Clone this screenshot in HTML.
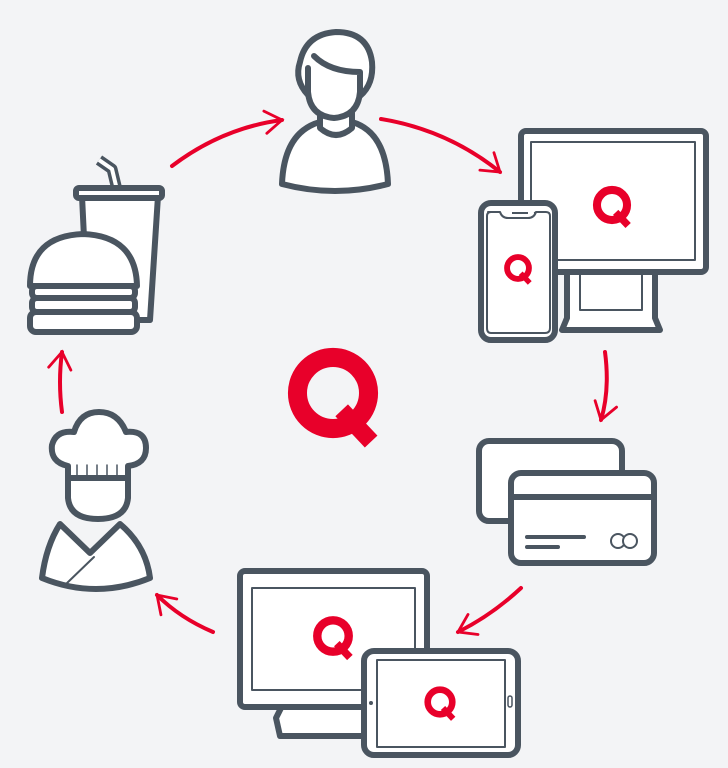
<!DOCTYPE html>
<html><head><style>html,body{margin:0;padding:0;background:#f3f4f6}svg{display:block}</style></head><body>
<svg width="728" height="768" viewBox="0 0 728 768" xmlns="http://www.w3.org/2000/svg">
<defs>
<symbol id="q" viewBox="-60 -60 120 120" overflow="visible">
<circle cx="0" cy="0" r="41" fill="none" stroke="#e8002a" stroke-width="22"/>
<line x1="10" y1="20" x2="44" y2="56" stroke="#e8002a" stroke-width="20"/>
</symbol>
<marker id="ah" viewBox="0 0 10 10" refX="7" refY="5" markerWidth="7" markerHeight="7" orient="auto" markerUnits="strokeWidth">
<path d="M1,1 L7,5 L1,9" fill="none" stroke="#e8002a" stroke-width="1" stroke-linecap="round"/>
</marker>
</defs>
<rect width="728" height="768" fill="#f3f4f6"/>
<!-- straw -->
<path d="M99,160 L112,169 L118,194" fill="none" stroke="#4a5560" stroke-width="11" stroke-linejoin="round"/>
<path d="M99,160 L112,169 L118,194" fill="none" stroke="#fff" stroke-width="4" stroke-linejoin="round"/>
<g fill="#fff" stroke="#4a5560" stroke-width="6" stroke-linejoin="round" stroke-linecap="round">
<!-- person -->
<path d="M282,184 Q284,132 320,122 L352,122 Q386,132 388,184 Q335,198 282,184 Z"/>
<path d="M320,110 L320,128 Q336,142 352,128 L352,110 Z"/>
<path d="M308,95 Q294,80 300,62 Q306,34 336,32 Q368,32 372,62 Q374,84 360,96 Z"/>
<path d="M308,68 L308,92 Q310,116 334,118 Q358,116 360,92 L360,72 Q330,72 314,56"/>
<!-- top monitor -->
<path d="M567,272 L567,318 L562,330 L660,330 L655,318 L655,272 Z"/>
<rect x="580" y="272" width="62" height="38" stroke-width="2"/>
<rect x="521" y="131" width="185" height="141" rx="5"/>
<rect x="531" y="142" width="164" height="118" stroke-width="2"/>
<!-- phone -->
<rect x="481" y="203" width="74" height="137" rx="10"/>
<path d="M488,212 L500,212 Q502,218 508,218 L528,218 Q534,218 536,212 L546,212 Q550,212 550,216 L550,328 Q550,333 545,333 L491,333 Q487,333 487,328 L487,216 Q487,212 491,212" stroke-width="2"/>
<!-- cards -->
<rect x="479" y="441" width="143" height="80" rx="10"/>
<rect x="511" y="473" width="143" height="90" rx="10"/>
<line x1="511" y1="497" x2="654" y2="497" stroke-width="6"/>
<line x1="527" y1="537" x2="584" y2="537" stroke-width="4" fill="none"/>
<line x1="527" y1="547" x2="558" y2="547" stroke-width="4" fill="none"/>
<circle cx="618" cy="541" r="7" stroke-width="2"/>
<circle cx="630" cy="541" r="7" stroke-width="2"/>
<!-- bottom monitor -->
<path d="M282,706 L276,718 L280,736 L370,736 L366,706 Z"/>
<rect x="240" y="571" width="187" height="136" rx="5"/>
<rect x="252" y="588" width="163" height="102" stroke-width="2"/>
<!-- tablet -->
<rect x="364" y="651" width="154" height="104" rx="10"/>
<rect x="377" y="660" width="128" height="87" stroke-width="2"/>
<!-- cup & burger -->
<path d="M82,196 L88,320 L150,320 L158,196 Z"/>
<rect x="76" y="188" width="86" height="10" rx="3"/>
<rect x="30" y="312" width="107" height="20" rx="6"/>
<rect x="32" y="298" width="103" height="14" rx="5"/>
<rect x="32" y="286" width="103" height="12" rx="5"/>
<path d="M30,286 Q30,236 83,234 Q136,236 137,286 Z"/>
<!-- chef -->
<path d="M60,524 L90,553 L120,524 Q146,546 150,578 Q96,600 42,578 Q46,546 60,524 Z"/>
<path d="M94,557 L66,584" stroke-width="2"/>
<path d="M68,477 L68,498 Q70,519 98,519 Q126,519 128,498 L128,477 Z"/>
<path d="M68,478 L68,466 Q50,462 52,445 Q56,430 74,432 Q80,412 99,412 Q118,412 126,432 Q146,430 146,448 Q146,464 128,466 L128,478 Z"/>
<g stroke-width="1.5"><line x1="77" y1="465" x2="77" y2="478"/><line x1="87" y1="465" x2="87" y2="478"/><line x1="97" y1="465" x2="97" y2="478"/><line x1="107" y1="465" x2="107" y2="478"/><line x1="117" y1="465" x2="117" y2="478"/><line x1="68" y1="478" x2="128" y2="478"/></g>
</g>
<circle cx="535" cy="213" r="1.2" fill="#4a5560"/>
<line x1="512" y1="213" x2="528" y2="213" stroke="#4a5560" stroke-width="2"/>
<circle cx="371" cy="703" r="2" fill="#4a5560"/>
<rect x="508" y="696" width="4" height="11" rx="2" fill="none" stroke="#4a5560" stroke-width="1.5"/>
<!-- Q logos -->
<use href="#q" x="281" y="341" width="104" height="104"/>
<use href="#q" x="590" y="183" width="44" height="44"/>
<use href="#q" x="502" y="252" width="32" height="32"/>
<use href="#q" x="310" y="613" width="46" height="46"/>
<use href="#q" x="422" y="684" width="36" height="36"/>
<!-- arrows -->
<g fill="none" stroke="#e8002a" stroke-width="4" stroke-linecap="round" marker-end="url(#ah)">
<path d="M172,166 Q222,128 282,120"/>
<path d="M381,119 Q448,130 500,172"/>
<path d="M605,352 Q610,390 601,420"/>
<path d="M521,588 Q492,615 458,632"/>
<path d="M213,632 Q180,618 157,595"/>
<path d="M62,412 Q58,382 62,352"/>
</g>
</svg>
</body></html>
